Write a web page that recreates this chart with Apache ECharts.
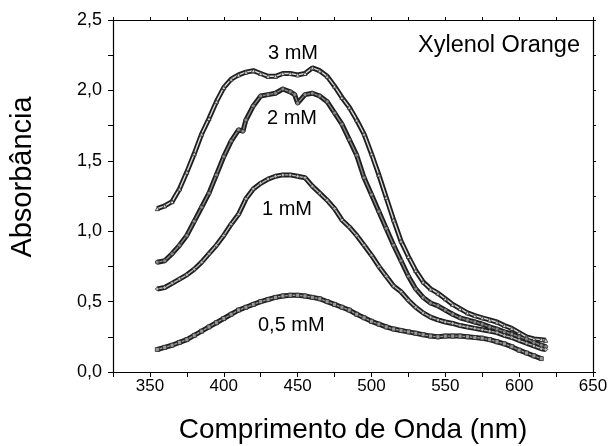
<!DOCTYPE html>
<html>
<head>
<meta charset="utf-8">
<script src="https://cdn.jsdelivr.net/npm/echarts@6/dist/echarts.min.js"></script>
<style>
  html, body { margin: 0; padding: 0; background: #fff; }
  #chart { width: 610px; height: 446px; }
</style>
</head>
<body>
<div id="chart"></div>
<script>
// wavelengths (nm) and absorbance
const wl3 = [355,360,365,370,375,380,385,390,395,400,405,410,415,420,425,430,435,440,445,450,455,460,465,470,475,480,485,490,495,500,505,510,515,520,525,530,535,540,545,550,555,560,565,570,575,580,585,590,595,600,605,610,615,618]
const abs3 = [1.16,1.18,1.21,1.30,1.42,1.55,1.69,1.80,1.92,2.02,2.08,2.11,2.13,2.14,2.12,2.10,2.10,2.12,2.12,2.11,2.12,2.16,2.14,2.10,2.03,1.95,1.88,1.79,1.69,1.55,1.40,1.24,1.08,0.93,0.82,0.72,0.64,0.59,0.56,0.52,0.48,0.45,0.42,0.40,0.385,0.37,0.355,0.33,0.31,0.28,0.25,0.235,0.23,0.225]

const wl2 = [355,360,365,370,375,380,385,390,395,400,405,410,413,415,420,425,430,435,440,445,448,450,455,460,465,470,475,480,485,490,495,500,505,510,515,520,525,530,535,540,545,550,555,560,565,570,575,580,585,590,595,600,605,610,615,618]
const abs2 = [0.78,0.79,0.84,0.90,0.97,1.07,1.17,1.27,1.40,1.53,1.64,1.72,1.71,1.79,1.89,1.96,1.97,1.98,2.01,1.99,1.97,1.91,1.97,1.98,1.96,1.92,1.84,1.76,1.65,1.54,1.38,1.26,1.14,1.02,0.90,0.79,0.68,0.59,0.53,0.49,0.47,0.44,0.41,0.385,0.37,0.355,0.34,0.32,0.305,0.285,0.27,0.25,0.235,0.21,0.19,0.18]

const wl1 = [355,360,365,370,375,380,385,390,395,400,405,410,415,420,425,430,435,440,445,450,455,460,465,470,475,480,485,490,495,500,505,510,515,520,525,530,535,540,545,550,555,560,565,570,575,580,585,590,595,600,605,610,615,618]
const abs1 = [0.59,0.60,0.63,0.66,0.69,0.73,0.78,0.84,0.90,0.97,1.05,1.12,1.23,1.30,1.34,1.37,1.39,1.40,1.40,1.39,1.38,1.32,1.27,1.22,1.16,1.08,1.03,0.97,0.90,0.83,0.75,0.68,0.61,0.57,0.51,0.46,0.42,0.39,0.37,0.355,0.345,0.33,0.32,0.31,0.30,0.29,0.28,0.26,0.245,0.225,0.205,0.185,0.165,0.16]

const wl05 = [355,360,365,370,375,380,385,390,395,400,405,410,415,420,425,430,435,440,445,450,455,460,465,470,475,480,485,490,495,500,505,510,515,520,525,530,535,540,545,550,555,560,565,570,575,580,585,590,595,600,605,610,615]
const abs05 = [0.16,0.175,0.19,0.21,0.23,0.26,0.29,0.32,0.35,0.38,0.41,0.44,0.46,0.48,0.50,0.515,0.53,0.54,0.545,0.545,0.54,0.53,0.52,0.50,0.48,0.46,0.44,0.41,0.385,0.36,0.34,0.32,0.305,0.295,0.285,0.275,0.265,0.255,0.25,0.255,0.255,0.255,0.25,0.245,0.24,0.23,0.215,0.20,0.18,0.155,0.135,0.115,0.095]

const xTicks = [350, 400, 450, 500, 550, 600, 650]
const yTickLabels = ['0,0', '0,5', '1,0', '1,5', '2,0', '2,5']

const font = 'Liberation Sans, Arial, sans-serif'

function pairs(xs, ys) {
    return xs.map((x, i) => [x, ys[i]])
}

// each curve: a dark band with a lighter core, like the dense open markers
function curve(name, xs, ys, core, symbol) {
    return [
        {
            name: name,
            type: 'line',
            data: pairs(xs, ys),
            showSymbol: false,
            lineStyle: { color: '#1e1e1e', width: 5 },
            z: 2,
            silent: true
        },
        {
            name: name + ' core',
            type: 'line',
            data: pairs(xs, ys),
            symbol: symbol,
            symbolSize: 4,
            itemStyle: { color: core, borderColor: '#2a2a2a', borderWidth: 0.8 },
            lineStyle: { color: core, width: 1.4 },
            z: 3,
            silent: true
        }
    ]
}

const chart = echarts.init(document.getElementById('chart'))

const labelStyle = { fill: '#000', fontSize: 20, fontFamily: font }

chart.setOption({
    animation: false,
    backgroundColor: '#fff',
    grid: { left: 113, right: 17, top: 20, bottom: 74, outerBoundsMode: 'none', containLabel: false },
    xAxis: [
        {
            type: 'value',
            min: 325,
            max: 650,
            interval: 25,
            axisLine: { lineStyle: { color: '#000', width: 1.2 } },
            axisTick: { length: 5, lineStyle: { color: '#000' } },
            axisLabel: {
                color: '#000', fontSize: 17, fontFamily: font, margin: 6,
                formatter: v => xTicks.includes(v) ? String(v) : ''
            },
            splitLine: { show: false },
            name: 'Comprimento de Onda (nm)',
            nameLocation: 'middle',
            nameGap: 44,
            nameTextStyle: { color: '#000', fontSize: 28, fontFamily: font }
        },
        {
            type: 'value',
            position: 'top',
            min: 325,
            max: 650,
            interval: 25,
            axisLine: { show: true, onZero: false, lineStyle: { color: '#000', width: 1.2 } },
            axisTick: { length: 3, lineStyle: { color: '#000' } },
            axisLabel: { show: false },
            splitLine: { show: false }
        }
    ],
    yAxis: [
        {
            type: 'value',
            min: 0,
            max: 2.5,
            interval: 0.25,
            axisLine: { show: true, lineStyle: { color: '#000', width: 1.2 } },
            axisTick: { length: 5, lineStyle: { color: '#000' } },
            axisLabel: {
                color: '#000', fontSize: 18, fontFamily: font, margin: 11,
                formatter: v => {
                    const i = Math.round(v / 0.5)
                    return Math.abs(v - i * 0.5) < 1e-6 ? yTickLabels[i] : ''
                }
            },
            splitLine: { show: false }
        },
        {
            type: 'value',
            position: 'right',
            min: 0,
            max: 2.5,
            interval: 0.25,
            axisLine: { show: true, onZero: false, lineStyle: { color: '#000', width: 1.2 } },
            axisTick: { length: 3, lineStyle: { color: '#000' } },
            axisLabel: { show: false },
            splitLine: { show: false }
        }
    ],
    series: [
        ...curve('3 mM', wl3, abs3, '#d8d8d8', 'triangle'),
        ...curve('2 mM', wl2, abs2, '#8a8a8a', 'circle'),
        ...curve('1 mM', wl1, abs1, '#b8b8b8', 'diamond'),
        ...curve('0,5 mM', wl05, abs05, '#9a9a9a', 'rect')
    ],
    graphic: [
        {
            type: 'text', x: 23, y: 177, rotation: Math.PI / 2,
            style: Object.assign({}, labelStyle, { text: 'Absorbância', fontSize: 29, align: 'center', verticalAlign: 'middle' })
        },
        { type: 'text', left: 418, top: 34, style: Object.assign({}, labelStyle, { text: 'Xylenol Orange', fontSize: 23.5 }) },
        { type: 'text', left: 268, top: 43, style: Object.assign({}, labelStyle, { text: '3 mM' }) },
        { type: 'text', left: 267, top: 108, style: Object.assign({}, labelStyle, { text: '2 mM' }) },
        { type: 'text', left: 262, top: 199, style: Object.assign({}, labelStyle, { text: '1 mM' }) },
        { type: 'text', left: 258, top: 315, style: Object.assign({}, labelStyle, { text: '0,5 mM' }) }
    ]
})
</script>
</body>
</html>
